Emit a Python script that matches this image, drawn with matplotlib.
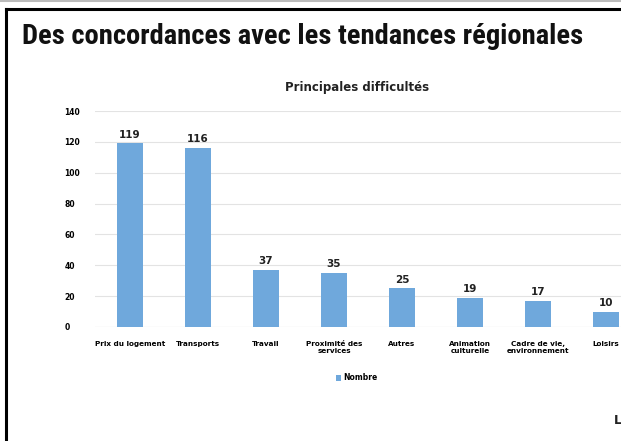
import matplotlib
matplotlib.use("Agg")
import matplotlib.pyplot as plt
from matplotlib.lines import Line2D
from matplotlib import font_manager

categories = ["Prix du logement", "Transports", "Travail", "Proximité des\nservices",
              "Autres", "Animation\nculturelle", "Cadre de vie,\nenvironnement", "Loisirs"]
values = [119, 116, 37, 35, 25, 19, 17, 10]
yticks = [0, 20, 40, 60, 80, 100, 120, 140]

W, H = 621, 441
fig = plt.figure(figsize=(W / 100, H / 100), dpi=100)
fig.patch.set_facecolor("white")

names = {f.name for f in font_manager.fontManager.ttflist}
title_family = "DejaVu Sans"
for cand in ["Liberation Sans Narrow", "DejaVu Sans Condensed", "Roboto Condensed",
             "Open Sans Condensed", "Lato", "Roboto"]:
    if cand in names:
        title_family = cand
        break

# frame
fig.add_artist(Line2D([5.5 / W, 5.5 / W], [0, 1 - 9 / H], color="black", lw=2.2, transform=fig.transFigure))
fig.add_artist(Line2D([5.5 / W, 1], [1 - 9 / H, 1 - 9 / H], color="black", lw=2.2, transform=fig.transFigure))
fig.add_artist(Line2D([0, 1], [1 - 1 / H, 1 - 1 / H], color="#bbbbbb", lw=1.5, transform=fig.transFigure))

title = fig.text(22 / W, 1 - 36 / H, "Des concordances avec les tendances régionales",
                 fontsize=22, family=title_family, fontweight="bold", va="center", ha="left",
                 color="#111111")
renderer = fig.canvas.get_renderer()
w = title.get_window_extent(renderer).width
target = 558
title.set_fontsize(22 * target / w)

fig.text(357 / W, 1 - 88 / H, "Principales difficultés", fontsize=8.5, fontweight="bold",
         ha="center", va="center", color="#222222")

left, right = 95, 621
top, bottom = 111, 327
ax = fig.add_axes([left / W, 1 - bottom / H, (right - left) / W, (bottom - top) / H])
x = list(range(len(categories)))
bars = ax.bar(x, values, width=0.39, color="#6fa8dc", label="Nombre", zorder=3)
ax.set_xlim(-0.515, 7.22)
ax.set_ylim(0, 140)
ax.set_yticks(yticks)
ax.set_yticklabels([str(t) for t in yticks], fontsize=5.5, fontweight="bold")
ax.set_xticks(x)
ax.set_xticklabels(categories, fontsize=5.2, fontweight="bold")
ax.tick_params(length=0, pad=10)
ax.tick_params(axis="y", pad=22)
ax.grid(axis="y", color="#e3e3e3", lw=0.8, zorder=0)
for s in ax.spines.values():
    s.set_visible(False)
ax.axhline(0, color="#d9d9d9", lw=0.8, zorder=2)
for b, v in zip(bars, values):
    ax.text(b.get_x() + b.get_width() / 2, v + 2.5, str(v), ha="center", va="bottom",
            fontsize=7.5, fontweight="bold", color="#222222")
for lab in ax.get_yticklabels():
    lab.set_horizontalalignment("left")

fig.legend(handles=[bars], labels=["Nombre"], loc="center", bbox_to_anchor=(357 / W, 1 - 378 / H),
           frameon=False, handlelength=0.7, handleheight=0.7, handletextpad=0.3,
           prop={"weight": "bold", "size": 5.5})

fig.text(614 / W, 1 - 420 / H, "L", fontsize=9, fontweight="bold", ha="left", va="center", color="#222222")

fig.savefig("out.png", dpi=100)
